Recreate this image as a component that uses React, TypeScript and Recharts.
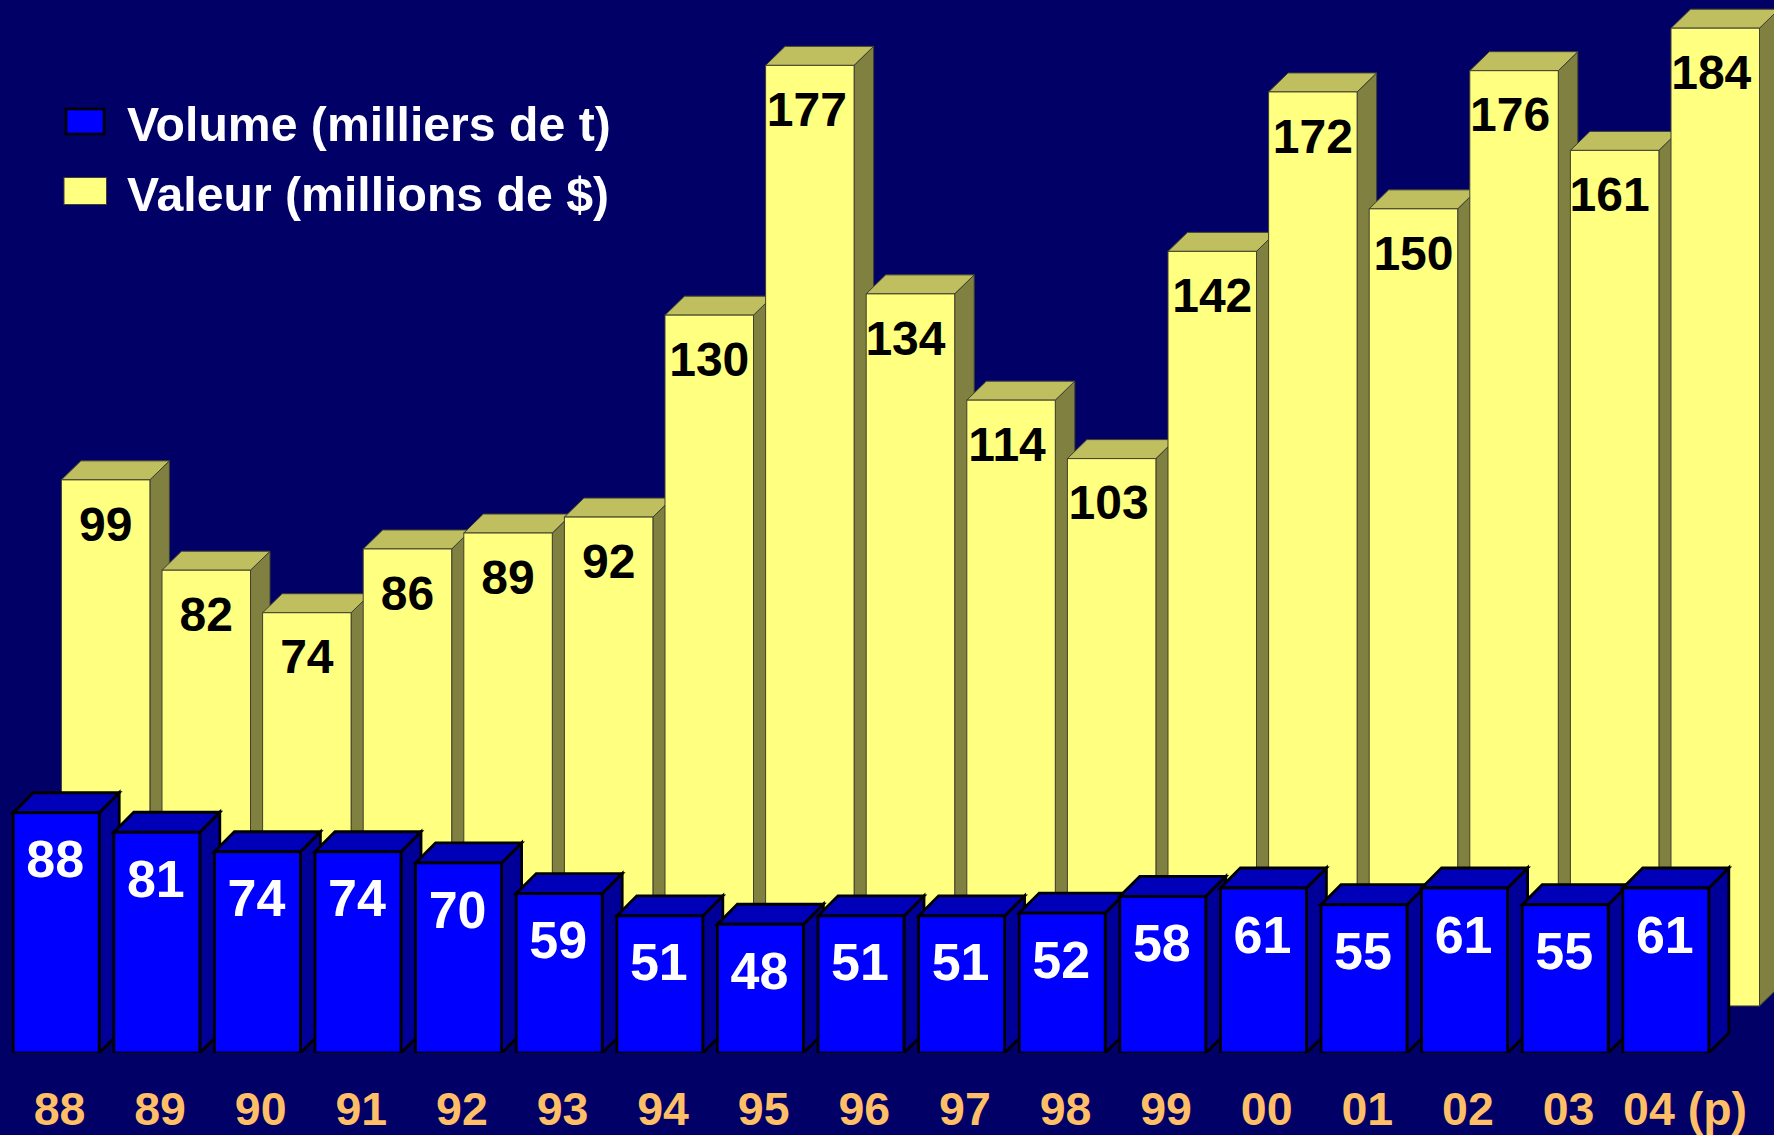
import React from "react";
import { BarChart, Bar, XAxis, YAxis, Legend, LabelList } from "recharts";

const years = ["88","89","90","91","92","93","94","95","96","97","98","99","00","01","02","03","04 (p)"];
const volume = [88,81,74,74,70,59,51,48,51,51,52,58,61,55,61,55,61];
const valeur = [99,82,74,86,89,92,130,177,134,114,103,142,172,150,176,161,184];
const rows = years.map((year, i) => ({ year, volume: volume[i], valeur: valeur[i] }));

// horizontal nudges of the value labels, which are not quite centred in the original
const valeurLabelShift = [0,0,0,0,0,0,0,-3,-5,-4,-3,0,0,0,-4,-5,-4];

const FONT = "'Liberation Sans', Arial, sans-serif";

function box(front: string, top: string, side: string, stroke: string, sw: number, dx: number, dy: number) {
  return (p: any) => {
    const { x, y, width: w, height: h } = p;
    const b = y + h, r = x + w;
    return (
      <g stroke={stroke} strokeWidth={sw} strokeLinejoin="miter">
        <polygon points={`${r},${y} ${r + dx},${y - dy} ${r + dx},${b - dy} ${r},${b}`} fill={side} />
        <polygon points={`${x},${y} ${x + dx},${y - dy} ${r + dx},${y - dy} ${r},${y}`} fill={top} />
        <rect x={x} y={y} width={w} height={h} fill={front} />
      </g>
    );
  };
}
const blueBox = box("#0000FF", "#0000B8", "#000099", "#000000", 2.8, 20, 20);
const yellowBox = box("#FFFF80", "#BFBF60", "#808040", "#404030", 1, 19.5, 19);

const barLabel = (color: string, size: number, drop: number, shift: (i: number) => number) => (p: any) => {
  const { x, y, width, value, index } = p;
  return (
    <text x={x + width / 2 + shift(index)} y={y + drop + size * 0.358} textAnchor="middle" fontFamily={FONT}
      fontWeight="bold" fontSize={size} fill={color}>{value}</text>
  );
};

const YearTick = (p: any) => {
  const v = p.payload.value;
  return (
    <text x={p.x + (v === "04 (p)" ? 19 : 3)} y={1125} textAnchor="middle" fontFamily={FONT}
      fontWeight="bold" fontSize={46.5} fill="#FFBF66">{v}</text>
  );
};

const LegendBox = () => (
  <svg width={700} height={240} style={{ display: "block" }}>
    <rect x={66} y={109} width={38} height={25} fill="#0000FF" stroke="#000" strokeWidth={2.6} />
    <rect x={64} y={177.5} width={42.5} height={27} fill="#FFFF80" stroke="#404030" strokeWidth={1} />
    <text x={127} y={141} fontFamily={FONT} fontWeight="bold" fontSize={48.2} fill="#fff">Volume (milliers de t)</text>
    <text x={127} y={211} fontFamily={FONT} fontWeight="bold" fontSize={48.2} fill="#fff">Valeur (millions de $)</text>
  </svg>
);

export default function App() {
  return (
    <div style={{ position: "absolute", left: 0, top: 0, width: 1774, height: 1135, background: "#000066", overflow: "hidden" }}>
      <BarChart width={1774} height={1135} data={rows} margin={{ top: 0, left: 6.2, right: 8.4, bottom: 0 }}
        barCategoryGap={0}>
        <XAxis xAxisId="blue" dataKey="year" height={82} interval={0} tickLine={false} axisLine={false}
          padding={{ left: 0, right: 49.2 }} tick={YearTick} />
        <XAxis xAxisId="yellow" dataKey="year" hide padding={{ left: 49.2, right: 0 }} />
        <YAxis yAxisId="blue" hide type="number" domain={[1.8, 379.6]} allowDataOverflow />
        <YAxis yAxisId="yellow" hide type="number" domain={[-8.85, 189.3]} allowDataOverflow />
        <Legend layout="vertical" align="center" verticalAlign="middle" content={<LegendBox />}
          wrapperStyle={{ left: 0, top: 0, width: 700, height: 240 }} />
        <Bar name="Valeur (millions de $)" dataKey="valeur" xAxisId="yellow" yAxisId="yellow" barSize={88.5}
          fill="#FFFF80" shape={yellowBox} isAnimationActive={false}>
          <LabelList dataKey="valeur" content={barLabel("#000000", 48, 43.5, (i) => valeurLabelShift[i])} />
        </Bar>
        <Bar name="Volume (milliers de t)" dataKey="volume" xAxisId="blue" yAxisId="blue" barSize={86}
          fill="#0000FF" shape={blueBox} isAnimationActive={false}>
          <LabelList dataKey="volume" content={barLabel("#FFFFFF", 52, 46, () => -1)} />
        </Bar>
      </BarChart>
    </div>
  );
}
